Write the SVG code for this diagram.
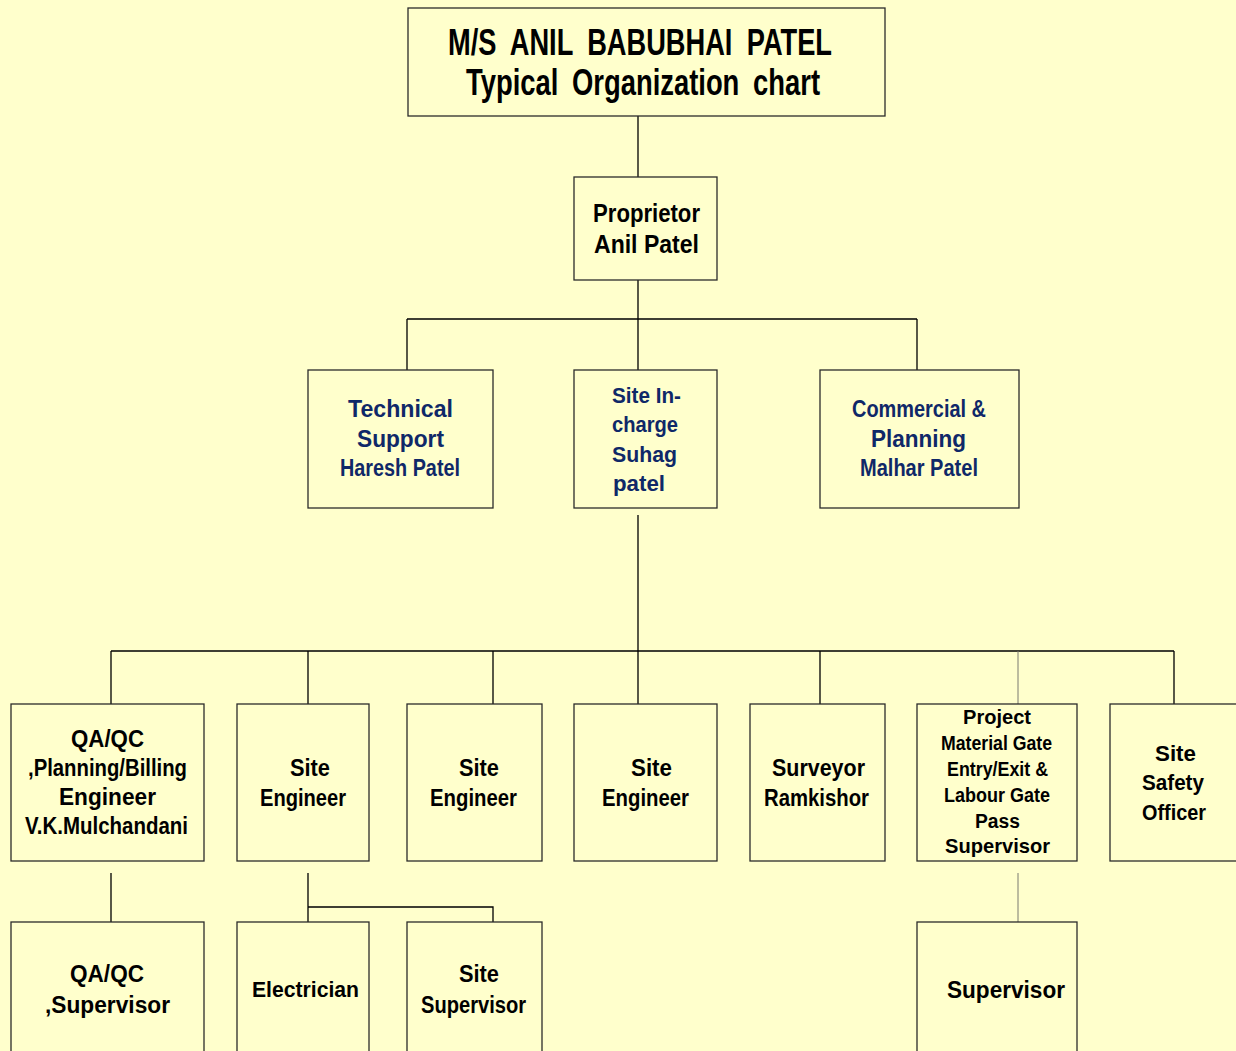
<svg xmlns="http://www.w3.org/2000/svg" width="1236" height="1051" viewBox="0 0 1236 1051">
<style>
.bg{fill:#FFFFCC}
.box{fill:#FFFFCC;stroke:#2b2b2b;stroke-width:1.3}
.ln{stroke:#000;stroke-width:1.3;fill:none}
.lg{stroke:#7a7a70;stroke-width:1;fill:none}
text{font-family:"Liberation Sans",Arial,sans-serif;font-weight:bold;fill:#000}
.nv{fill:#0F2868}
</style>
<rect class="bg" x="0" y="0" width="1236" height="1051"/>
<g id="connectors">
<path class="ln" d="M638 116V180"/>
<path class="ln" d="M638 280V377M407 319H917M407 319V377M917 319V377"/>
<path class="ln" d="M638 515V716M111 651H1174M111 651V716M308 651V716M493 651V716M820 651V716M1174 651V716"/>
<path class="lg" d="M1018 651V717"/>
<path class="ln" d="M111 873V939M308 873V939M308 907H493V939"/>
<path class="lg" d="M1018 873V939"/>
</g>
<g id="title">
<rect class="box" x="408" y="8" width="477" height="108"/>
<text x="448" y="55" font-size="36" word-spacing="9" textLength="384" lengthAdjust="spacingAndGlyphs">M/S ANIL BABUBHAI PATEL</text>
<text x="466" y="95" font-size="36" word-spacing="8" textLength="354" lengthAdjust="spacingAndGlyphs">Typical Organization chart</text>
</g>
<g id="proprietor">
<rect class="box" x="574" y="177" width="143" height="103"/>
<text x="593" y="222" font-size="26" textLength="107" lengthAdjust="spacingAndGlyphs">Proprietor</text>
<text x="594" y="253" font-size="26" textLength="105" lengthAdjust="spacingAndGlyphs">Anil Patel</text>
</g>
<g id="technical-support">
<rect class="box" x="308" y="370" width="185" height="138"/>
<text class="nv" x="348" y="417" font-size="23" textLength="105" lengthAdjust="spacingAndGlyphs">Technical</text>
<text class="nv" x="357" y="447" font-size="23" textLength="87" lengthAdjust="spacingAndGlyphs">Support</text>
<text class="nv" x="340" y="476" font-size="23" textLength="120" lengthAdjust="spacingAndGlyphs">Haresh Patel</text>
</g>
<g id="site-incharge">
<rect class="box" x="574" y="370" width="143" height="138"/>
<text class="nv" x="612" y="403" font-size="22" textLength="69" lengthAdjust="spacingAndGlyphs">Site In-</text>
<text class="nv" x="612" y="432" font-size="22" textLength="66" lengthAdjust="spacingAndGlyphs">charge</text>
<text class="nv" x="612" y="462" font-size="22" textLength="65" lengthAdjust="spacingAndGlyphs">Suhag</text>
<text class="nv" x="613" y="491" font-size="22" textLength="52" lengthAdjust="spacingAndGlyphs">patel</text>
</g>
<g id="commercial-planning">
<rect class="box" x="820" y="370" width="199" height="138"/>
<text class="nv" x="852" y="417" font-size="23" textLength="134" lengthAdjust="spacingAndGlyphs">Commercial &amp;</text>
<text class="nv" x="871" y="447" font-size="23" textLength="95" lengthAdjust="spacingAndGlyphs">Planning</text>
<text class="nv" x="860" y="476" font-size="23" textLength="118" lengthAdjust="spacingAndGlyphs">Malhar Patel</text>
</g>
<g id="qaqc-engineer">
<rect class="box" x="11" y="704" width="193" height="157"/>
<text x="71" y="747" font-size="23" textLength="73" lengthAdjust="spacingAndGlyphs">QA/QC</text>
<text x="28" y="776" font-size="23" textLength="159" lengthAdjust="spacingAndGlyphs">,Planning/Billing</text>
<text x="59" y="805" font-size="23" textLength="97" lengthAdjust="spacingAndGlyphs">Engineer</text>
<text x="25" y="834" font-size="23" textLength="163" lengthAdjust="spacingAndGlyphs">V.K.Mulchandani</text>
</g>
<g id="site-engineer-1">
<rect class="box" x="237" y="704" width="132" height="157"/>
<text x="290" y="776" font-size="23" textLength="40" lengthAdjust="spacingAndGlyphs">Site</text>
<text x="260" y="806" font-size="23" textLength="86" lengthAdjust="spacingAndGlyphs">Engineer</text>
</g>
<g id="site-engineer-2">
<rect class="box" x="407" y="704" width="135" height="157"/>
<text x="459" y="776" font-size="23" textLength="40" lengthAdjust="spacingAndGlyphs">Site</text>
<text x="430" y="806" font-size="23" textLength="87" lengthAdjust="spacingAndGlyphs">Engineer</text>
</g>
<g id="site-engineer-3">
<rect class="box" x="574" y="704" width="143" height="157"/>
<text x="631" y="776" font-size="23" textLength="41" lengthAdjust="spacingAndGlyphs">Site</text>
<text x="602" y="806" font-size="23" textLength="87" lengthAdjust="spacingAndGlyphs">Engineer</text>
</g>
<g id="surveyor">
<rect class="box" x="750" y="704" width="135" height="157"/>
<text x="772" y="776" font-size="23" textLength="93" lengthAdjust="spacingAndGlyphs">Surveyor</text>
<text x="764" y="806" font-size="23" textLength="105" lengthAdjust="spacingAndGlyphs">Ramkishor</text>
</g>
<g id="gate-supervisor">
<rect class="box" x="917" y="704" width="160" height="157"/>
<text x="963" y="724" font-size="21" textLength="68" lengthAdjust="spacingAndGlyphs">Project</text>
<text x="941" y="750" font-size="20" textLength="111" lengthAdjust="spacingAndGlyphs">Material Gate</text>
<text x="947" y="776" font-size="20" textLength="101" lengthAdjust="spacingAndGlyphs">Entry/Exit &amp;</text>
<text x="944" y="802" font-size="20" textLength="106" lengthAdjust="spacingAndGlyphs">Labour Gate</text>
<text x="975" y="828" font-size="20" textLength="45" lengthAdjust="spacingAndGlyphs">Pass</text>
<text x="945" y="853" font-size="20.5" textLength="105" lengthAdjust="spacingAndGlyphs">Supervisor</text>
</g>
<g id="safety-officer">
<rect class="box" x="1110" y="704" width="140" height="157"/>
<text x="1155" y="761" font-size="22" textLength="41" lengthAdjust="spacingAndGlyphs">Site</text>
<text x="1142" y="790" font-size="22" textLength="62" lengthAdjust="spacingAndGlyphs">Safety</text>
<text x="1142" y="820" font-size="22" textLength="64" lengthAdjust="spacingAndGlyphs">Officer</text>
</g>
<g id="qaqc-supervisor">
<rect class="box" x="11" y="922" width="193" height="140"/>
<text x="70" y="982" font-size="23" textLength="74" lengthAdjust="spacingAndGlyphs">QA/QC</text>
<text x="45" y="1013" font-size="23" textLength="125" lengthAdjust="spacingAndGlyphs">,Supervisor</text>
</g>
<g id="electrician">
<rect class="box" x="237" y="922" width="132" height="140"/>
<text x="252" y="997" font-size="22" textLength="107" lengthAdjust="spacingAndGlyphs">Electrician</text>
</g>
<g id="site-supervisor">
<rect class="box" x="407" y="922" width="135" height="140"/>
<text x="459" y="982" font-size="23" textLength="40" lengthAdjust="spacingAndGlyphs">Site</text>
<text x="421" y="1013" font-size="23" textLength="105" lengthAdjust="spacingAndGlyphs">Supervisor</text>
</g>
<g id="supervisor">
<rect class="box" x="917" y="922" width="160" height="140"/>
<text x="947" y="998" font-size="23" textLength="118" lengthAdjust="spacingAndGlyphs">Supervisor</text>
</g>
</svg>
